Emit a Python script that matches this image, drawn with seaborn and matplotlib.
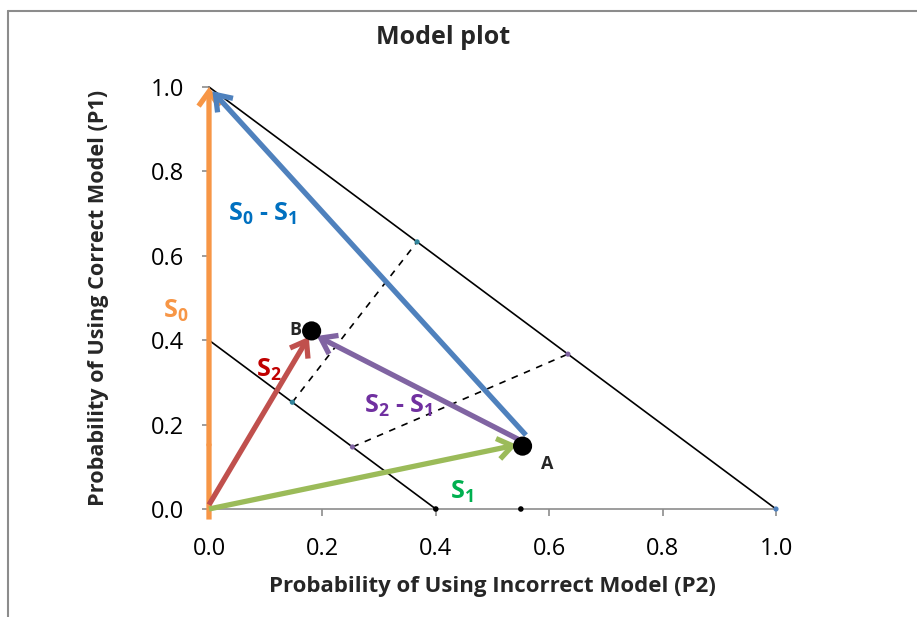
import numpy as np
import pandas as pd
import seaborn as sns
import matplotlib.pyplot as plt
from matplotlib.lines import Line2D

# ---- data ----
outer_x, outer_y = [0.0, 1.0], [1.0, 0.0]
inner_x, inner_y = [0.0, 0.4], [0.4, 0.0]
dash1_x, dash1_y = [0.147, 0.367], [0.253, 0.633]
dash2_x, dash2_y = [0.253, 0.633], [0.147, 0.367]

point_names = ["A", "B"]
point_x = [0.553, 0.181]
point_y = [0.149, 0.422]

small_x = [0.147, 0.367, 0.253, 0.633, 0.0, 1.0]
small_y = [0.253, 0.633, 0.147, 0.367, 0.152, 0.0]
small_c = ["#31849B", "#31849B", "#8064A2", "#8064A2", "#F79646", "#4F81BD"]
axis_dot_x = [0.4, 0.55]
axis_dot_y = [0.0, 0.0]

# arrows: (start, end)
arrow_names = ["S0", "S0-S1", "S2", "S2-S1", "S1"]
arrow_start = [(0.0, -0.025), (0.559, 0.175), (0.0, 0.01), (0.553, 0.16), (0.0, 0.0)]
arrow_end = [(0.0, 1.0), (0.006, 0.99), (0.176, 0.408), (0.19, 0.41), (0.543, 0.152)]
arrow_color = ["#F79646", "#4F81BD", "#C0504D", "#8064A2", "#9BBB59"]

label_text = [r"S$_0$", r"S$_0$ - S$_1$", r"S$_2$", r"S$_2$ - S$_1$", r"S$_1$"]
label_x = [-0.058, 0.095, 0.105, 0.335, 0.445]
label_y = [0.47, 0.70, 0.33, 0.245, 0.04]
label_color = ["#F79646", "#0070C0", "#C00000", "#7030A0", "#00B050"]

xticks = [0.0, 0.2, 0.4, 0.6, 0.8, 1.0]
yticks = [0.0, 0.2, 0.4, 0.6, 0.8, 1.0]

# ---- style ----
sns.set_theme(style="white")
plt.rcParams["font.family"] = ["Open Sans", "DejaVu Sans"]
plt.rcParams["mathtext.fontset"] = "custom"
plt.rcParams["mathtext.bf"] = "Open Sans:bold"
plt.rcParams["mathtext.rm"] = "Open Sans"
plt.rcParams["mathtext.default"] = "bf"

fig = plt.figure(figsize=(9.17, 6.17), dpi=100)
ax = fig.add_axes([209 / 917, 1 - 509 / 617, 567 / 917, 422 / 617])

# reference lines
sns.lineplot(x=outer_x, y=outer_y, ax=ax, color="black", lw=1.2, clip_on=False)
sns.lineplot(x=inner_x, y=inner_y, ax=ax, color="black", lw=1.2, clip_on=False)
for dx, dy in [(dash1_x, dash1_y), (dash2_x, dash2_y)]:
    sns.lineplot(x=dx, y=dy, ax=ax, color="black", lw=1.2, linestyle=(0, (4, 4)))

# small markers
sns.scatterplot(x=small_x, y=small_y, ax=ax, c=small_c, s=14, edgecolor="none", zorder=3, clip_on=False)
sns.scatterplot(x=axis_dot_x, y=axis_dot_y, ax=ax, color="black", s=16, edgecolor="none", zorder=3, clip_on=False)

# arrows
for (x0, y0), (x1, y1), col in zip(arrow_start, arrow_end, arrow_color):
    ax.annotate("", xy=(x1, y1), xytext=(x0, y0),
                arrowprops=dict(arrowstyle="->,head_length=0.7,head_width=0.5", color=col,
                                lw=3.8, shrinkA=0, shrinkB=0, mutation_scale=15,
                                capstyle="butt", joinstyle="miter"),
                annotation_clip=False, zorder=4)

# big points A and B
sns.scatterplot(x=point_x, y=point_y, ax=ax, color="black", s=190, edgecolor="none", zorder=5)
ax.text(0.596, 0.107, "A", fontsize=13, fontweight="bold", ha="center", va="center")
ax.text(0.152, 0.425, "B", fontsize=13, fontweight="bold", ha="center", va="center")

for t, x, y, c in zip(label_text, label_x, label_y, label_color):
    ax.text(x, y, t, color=c, fontsize=18, fontweight="bold", ha="center", va="center")

# axes
ax.set_xlim(0, 1.0)
ax.set_ylim(0, 1.0)
ax.set_xticks(xticks)
ax.set_yticks(yticks)
ax.set_xticklabels([f"{v:.1f}" for v in xticks], fontsize=17)
ax.set_yticklabels([f"{v:.1f}" for v in yticks], fontsize=17)
for side in ["top", "right"]:
    ax.spines[side].set_visible(False)
for side in ["left", "bottom"]:
    ax.spines[side].set_color("#8c8c8c")
    ax.spines[side].set_linewidth(1.2)
ax.tick_params(axis="both", length=5, width=1.2, color="#8c8c8c", direction="out",
               bottom=True, left=True, labelcolor="black")
ax.tick_params(axis="x", pad=15)
ax.tick_params(axis="y", pad=13)
ax.set_xlabel("Probability of Using Incorrect Model (P2)", fontsize=16, fontweight="bold", labelpad=11)
ax.set_ylabel("Probability of Using Correct Model (P1)", fontsize=15.6, fontweight="bold", labelpad=30)
fig.text(443 / 917, 1 - 37 / 617, "Model plot", fontsize=18, fontweight="bold", ha="center", va="center")

# chart frame
fig.add_artist(Line2D([8 / 917, 8 / 917], [0, 1 - 11 / 617], color="#8c8c8c", lw=1.5))
fig.add_artist(Line2D([8 / 917, 1], [1 - 11 / 617, 1 - 11 / 617], color="#8c8c8c", lw=1.5))

fig.savefig("out.png", dpi=100)
